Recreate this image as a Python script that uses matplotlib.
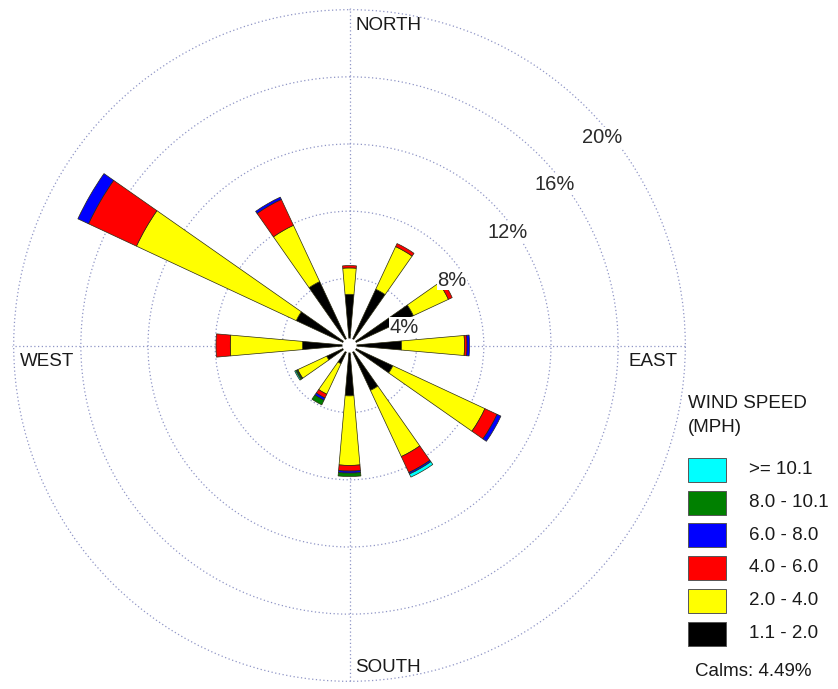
import numpy as np
import matplotlib
matplotlib.use("Agg")
import matplotlib.pyplot as plt
from matplotlib.patches import Rectangle

# Wind rose data (percent of time), 12 sectors, clockwise from north
directions_deg = [0, 30, 60, 90, 120, 150, 180, 210, 240, 270, 300, 330]
speed_labels = ["1.1 - 2.0", "2.0 - 4.0", "4.0 - 6.0", "6.0 - 8.0", "8.0 - 10.1", ">= 10.1"]
speed_colors = ["#000000", "#ffff00", "#ff0000", "#0000ff", "#008000", "#00ffff"]

spd_1_2 = [3.05, 3.70, 4.20, 3.10, 2.85, 2.95, 3.00, 1.20, 1.50, 2.80, 3.50, 4.20]
spd_2_4 = [1.57, 2.80, 2.30, 3.75, 6.05, 4.35, 4.14, 2.00, 1.90, 4.30, 10.50, 3.70]
spd_4_6 = [0.14, 0.20, 0.25, 0.15, 0.80, 1.05, 0.34, 0.25, 0.00, 0.85, 3.15, 1.70]
spd_6_8 = [0.00, 0.00, 0.00, 0.15, 0.25, 0.10, 0.12, 0.15, 0.05, 0.00, 0.70, 0.15]
spd_8_10 = [0.00, 0.00, 0.00, 0.00, 0.00, 0.00, 0.20, 0.30, 0.08, 0.00, 0.00, 0.00]
spd_10_up = [0.00, 0.00, 0.00, 0.00, 0.00, 0.20, 0.00, 0.00, 0.07, 0.00, 0.00, 0.00]
calms_pct = 4.49

ring_values = [4, 8, 12, 16, 20]
ring_labels = ["4%", "8%", "12%", "16%", "20%"]
# label centres in pixels (x, y from top)
ring_label_px = [(404.5, 327.5), (452, 280), (507.5, 232.5), (555, 184), (601.7, 137.5)]

W, H = 838, 689
plt.rcParams["font.family"] = ["Liberation Sans", "DejaVu Sans"]
fig = plt.figure(figsize=(W / 100, H / 100), dpi=100)

cx, cy, rad = 349.5, 345.5, 337.5
ax = fig.add_axes([(cx - rad) / W, (H - cy - rad) / H, 2 * rad / W, 2 * rad / H],
                  projection="polar")
ax.set_theta_zero_location("N")
ax.set_theta_direction(-1)
ax.set_ylim(0, 20.1)

grid_color = "#8f95c6"
ax.set_rgrids(ring_values, labels=[""] * len(ring_values))
ax.set_thetagrids([0, 90, 180, 270], labels=[""] * 4)
ax.grid(True, color=grid_color, linestyle=(0, (1, 2)), linewidth=0.9)
ax.spines["polar"].set_visible(False)
ax.set_facecolor("white")

theta = np.radians(directions_deg)
width = np.radians(10)
series = [spd_1_2, spd_2_4, spd_4_6, spd_6_8, spd_8_10, spd_10_up]
bottom = np.zeros(len(directions_deg))
for vals, col in zip(series, speed_colors):
    vals = np.array(vals)
    m = vals > 0
    ax.bar(theta[m], vals[m], width=width, bottom=bottom[m], color=col,
           edgecolor="#2a2a10", linewidth=0.5, zorder=3)
    bottom = bottom + vals

# calm hole at centre
ax.bar(0, 0.42, width=2 * np.pi, bottom=0, color="white", edgecolor="none", zorder=4)

# ring labels
for lab, (px, py) in zip(ring_labels, ring_label_px):
    fig.text(px / W, 1 - py / H, lab, ha="center", va="center", fontsize=14.5,
             color="#2b2b2b", zorder=6,
             bbox=dict(facecolor="white", edgecolor="none", pad=0.5))

# compass labels
txt = dict(fontsize=13.5, color="#1a1a1a", va="center")
fig.text(355 / W, 1 - 25 / H, "NORTH", ha="left", **txt)
fig.text(355 / W, 1 - 668 / H, "SOUTH", ha="left", **txt)
fig.text(20 / W, 1 - 362 / H, "WEST", ha="left", **txt)
fig.text(628 / W, 1 - 362 / H, "EAST", ha="left", **txt)

# legend
fig.text(688 / W, 1 - 404 / H, "WIND SPEED", ha="left", **txt)
fig.text(688 / W, 1 - 427 / H, "(MPH)", ha="left", **txt)
row_y = [470, 502.5, 535, 567.5, 600.5, 634]
for i, (lab, col) in enumerate(zip(speed_labels[::-1], speed_colors[::-1])):
    y = row_y[i]
    fig.add_artist(Rectangle(((688) / W, 1 - (y + 12) / H), 38 / W, 24 / H,
                             transform=fig.transFigure, facecolor=col,
                             edgecolor="#555555", linewidth=0.7))
    fig.text(749 / W, 1 - y / H, lab, ha="left", **txt)
fig.text(695 / W, 1 - 671 / H, f"Calms: {calms_pct:.2f}%", ha="left", **txt)

fig.savefig("out.png", dpi=100, facecolor="white")
